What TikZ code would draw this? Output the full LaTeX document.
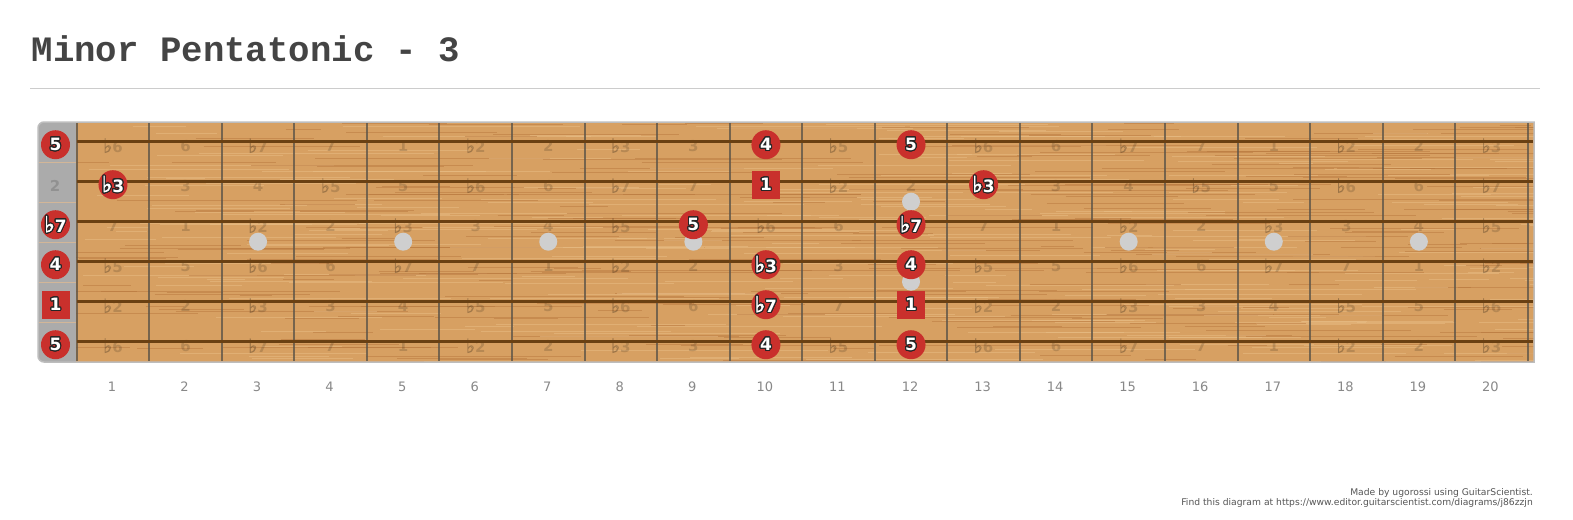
\documentclass[tikz,border=0pt]{standalone}
\usepackage{fontspec}
\setmainfont{DejaVu Sans}
\newfontfamily\titlefont{Liberation Mono}
\newfontfamily\dvs{DejaVu Sans}
\newfontfamily\flatfont[FakeBold=2.5]{DejaVu Sans}
\usepackage{contour}
\contourlength{1.1pt}
\contournumber{24}
\definecolor{wood}{HTML}{D7A062}
\definecolor{woodlight}{HTML}{EBC28C}
\definecolor{wooddark}{HTML}{B5733A}
\definecolor{stringc}{HTML}{6A4012}
\definecolor{fretc}{HTML}{5E5548}
\definecolor{nutgray}{HTML}{ABABAB}
\definecolor{notered}{HTML}{C9302C}
\definecolor{inlay}{HTML}{CFCFCF}
\definecolor{titlec}{HTML}{444444}
\definecolor{numc}{HTML}{888888}
\definecolor{creditc}{HTML}{555555}
\definecolor{rulec}{HTML}{CCCCCC}
\definecolor{edgec}{HTML}{BDBDBD}
\newcommand\flt{{\flatfont\scalebox{1.3}{♭}}}
\newcommand\ivl[1]{\ifcase#1 1\or \flt2\or 2\or \flt3\or 3\or 4\or \flt5\or 5\or \flt6\or 6\or \flt7\or 7\fi}
\tikzset{
  faint/.style={inner sep=0pt, font=\dvs\bfseries\fontsize{15}{15}\selectfont, text=black, text opacity=0.15},
  notec/.style={circle, fill=notered, minimum size=29pt, inner sep=0pt, text=white, font=\dvs\bfseries\fontsize{17}{17}\selectfont},
  notes/.style={rectangle, fill=notered, minimum size=28pt, inner sep=0pt, text=white, font=\dvs\bfseries\fontsize{17}{17}\selectfont},
  inlaydot/.style={circle, fill=inlay, minimum size=18pt, inner sep=0pt},
  fretnum/.style={text=numc, font=\dvs\fontsize{13}{13}\selectfont, inner sep=0pt},
  stringline/.style={stringc, line width=3pt},
  fretwire/.style={fretc, line width=2pt, opacity=0.8},
  credit/.style={anchor=base east, inner sep=0pt, text=creditc, font=\dvs\fontsize{9.2}{10}\selectfont},
}
\def\notelist{0/1/5/notec, 0/3/\flt7/notec, 0/4/4/notec, 0/5/1/notes, 0/6/5/notec,
  1/2/\flt3/notec, 9/3/5/notec,
  10/1/4/notec, 10/2/1/notes, 10/4/\flt3/notec, 10/5/\flt7/notec, 10/6/4/notec,
  12/1/5/notec, 12/3/\flt7/notec, 12/4/4/notec, 12/5/1/notes, 12/6/5/notec,
  13/2/\flt3/notec}
\begin{document}
\begin{tikzpicture}[x=1pt,y=-1pt]
\useasboundingbox (0,0) rectangle (1573,519);
\fill[white] (0,0) rectangle (1573,519);
% mark note positions
\foreach \f/\s/\t/\st in \notelist {
  \expandafter\gdef\csname hit-\s-\f\endcsname{}
}
% title
\node[anchor=base west, inner sep=0pt, text=titlec, font=\titlefont\bfseries\fontsize{35.7}{36}\selectfont] (title) at (31.5,62) {Minor Pentatonic - 3};
\draw[rulec, line width=1pt] (30,88) -- (1540,88);
% nut
\fill[nutgray, rounded corners=6pt] (38,122) rectangle (90,362);
\foreach \yy in {162,202,242,282,322} {
  \draw[wood!70!white, line width=0.8pt, opacity=0.7] (39,\yy) -- (76,\yy);
}
% wood
\fill[wood] (76,122) rectangle (1534,362);
\begin{scope}
\clip (76,122) rectangle (1534,362);
\pgfmathsetseed{7}
\foreach \k in {1,...,600} {
  \pgfmathsetmacro\gy{122+240*rnd}
  \pgfmathsetmacro\gx{60+1480*rnd}
  \pgfmathsetmacro\gl{30+220*rnd}
  \pgfmathsetmacro\gc{rnd}
  \ifdim\gc pt<0.5pt \def\gcol{woodlight}\else\def\gcol{wooddark}\fi
  \draw[\gcol, line width=0.8pt, opacity=0.45] (\gx,\gy) -- ({\gx+\gl},\gy);
}
\end{scope}
% outline
\draw[edgec, line width=1.5pt] (1534,122) -- (44,122) .. controls (40.7,122) and (38,124.7) .. (38,128) -- (38,356) .. controls (38,359.3) and (40.7,362) .. (44,362) -- (1534,362) -- cycle;
% faint interval labels
\foreach \s/\op in {1/7,2/2,3/10,4/5,5/0,6/7} {
  \foreach \f in {1,...,20} {
    \ifcsname hit-\s-\f\endcsname\else
      \pgfmathtruncatemacro\iv{mod(\op+\f,12)}
      \node[faint] (l-\s-\f) at ({76.7+72.55*(\f-0.5)},{141.7+40*(\s-1)+4}) {\ivl{\iv}};
    \fi
  }
}
\node[faint] (l-2-0) at (55,185.7) {2};
% fret wires
\foreach \k in {0,...,20} {
  \draw[fretwire] ({76.7+72.55*\k},123) -- ({76.7+72.55*\k},361);
}
% strings
\foreach \s in {1,...,6} {
  \draw[stringline] (77,{141.7+40*(\s-1)}) -- (1533,{141.7+40*(\s-1)});
}
% inlays
\foreach \f in {3,5,7,9,15,17,19} {
  \node[inlaydot] (dot-\f) at ({76.7+72.55*(\f-0.5)},241.7) {};
}
\node[inlaydot] (dot-12a) at ({76.7+72.55*11.5},201.7) {};
\node[inlaydot] (dot-12b) at ({76.7+72.55*11.5},281.7) {};
% notes
\foreach \f/\s/\t/\st in \notelist {
  \pgfmathsetmacro\nx{\f==0 ? 55.5 : 76.7+72.55*(\f-0.5)}
  \node[\st] (n-\s-\f) at (\nx,{141.7+40*(\s-1)+3}) {\contour{black!85}{\t}};
}
% fret numbers
\foreach \f in {1,...,20} {
  \node[fretnum] (fn-\f) at ({76.7+72.55*(\f-0.5)-1},387) {\f};
}
% credits
\node[credit] (credit1) at (1533,495) {Made by ugorossi using GuitarScientist.};
\node[credit] (credit2) at (1533,505) {Find this diagram at https://www.editor.guitarscientist.com/diagrams/j86zzjn};
\end{tikzpicture}
\end{document}
